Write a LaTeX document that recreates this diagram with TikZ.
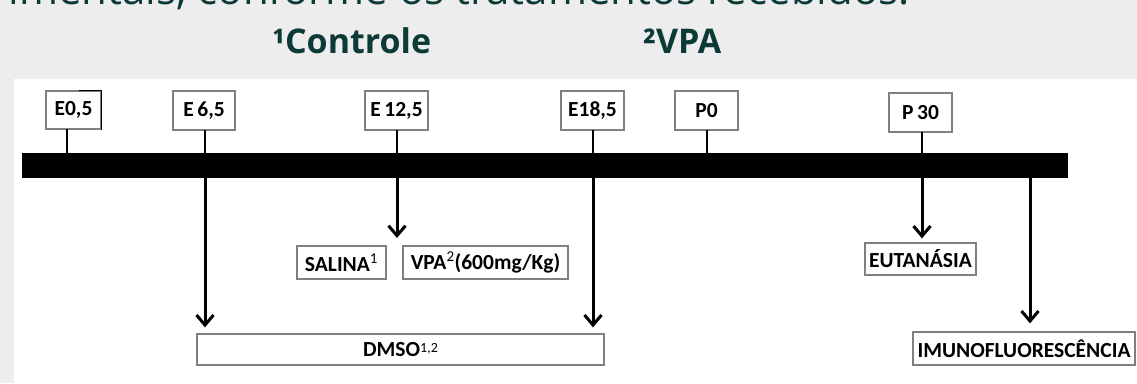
\documentclass[tikz,border=0pt]{standalone}
\usepackage{fontspec}
\setmainfont{Carlito}
\newfontfamily\hdrfont{Open Sans}
\usetikzlibrary{arrows.meta}
\definecolor{bggray}{HTML}{EDEDED}
\definecolor{hdrteal}{HTML}{0C3A37}
\definecolor{boxgray}{HTML}{808080}
\tikzset{
  tlbox/.style={draw=boxgray, line width=1.3pt, fill=white, inner sep=0pt, font=\bfseries\fontsize{21.5}{23}\selectfont, text=black},
  tick/.style={line width=1.8pt, black},
  downarrow/.style={line width=3pt, black, -{Straight Barb[length=10pt,width=17pt,line width=3pt]}},
  hdr/.style={font=\hdrfont\bfseries\fontsize{34}{36}\selectfont, text=hdrteal, inner sep=0pt, anchor=base west},
}
\begin{document}
\begin{tikzpicture}[x=1pt,y=-1pt]
\useasboundingbox (0,0) rectangle (1137,383);
\fill[bggray] (0,0) rectangle (1137,383);
\begin{scope}
\clip (0,0) rectangle (1137,383);
\node[font=\hdrfont\fontsize{42}{44}\selectfont, text=hdrteal, inner sep=0pt, anchor=base east] (toptext) at (910,4) {experimentais, conforme os tratamentos recebidos:};
\end{scope}
\node[hdr] (hctrl) at (272,53) {¹Controle};
\node[hdr] (hvpa) at (643,53) {²VPA};
\fill[white] (14,79) rectangle (1137,383);
% timeline bar
\node[fill=black, inner sep=0pt, minimum width=1046pt, minimum height=25pt] (bar) at (545,165.5) {};
% top labels
\node[tlbox, minimum width=55pt, minimum height=38pt] (e05) at (73.5,110) {E0,5};
\draw[black, line width=1.3pt] ([xshift=-23pt]e05.north east) -- (e05.north east) -- (e05.south east);
\node[tlbox, minimum width=62pt, minimum height=39pt] (e65) at (204,110.5) {E\,6,5};
\node[tlbox, minimum width=63pt, minimum height=39pt] (e125) at (396.5,110.5) {E\,12,5};
\node[tlbox, minimum width=63pt, minimum height=39pt] (e185) at (592.5,110.5) {E18,5};
\node[tlbox, minimum width=63pt, minimum height=39pt] (p0) at (706.5,110.5) {P0};
\node[tlbox, minimum width=63pt, minimum height=39pt] (p30) at (920.5,112.5) {P\,30};
% bottom boxes
\node[tlbox, minimum width=89pt, minimum height=33pt] (salina) at (341.5,262.5) {SALINA\textsuperscript{\normalfont 1}};
\node[tlbox, minimum width=165pt, minimum height=33pt] (vpa) at (485.5,262.5) {VPA\textsuperscript{\normalfont 2}(600mg/Kg)};
\node[tlbox, minimum width=407pt, minimum height=31pt] (dmso) at (400.5,349.5) {DMSO\raisebox{4pt}{\normalfont\fontsize{14}{14}\selectfont 1,2}};
\node[tlbox, minimum width=111pt, minimum height=32pt] (eut) at (920.5,259) {EUTANÁSIA};
\node[tlbox, minimum width=222pt, minimum height=33pt] (imuno) at (1024,348.5) {IMUNOFLUORESCÊNCIA};
% free ends
\coordinate (t05) at (67,129);
\coordinate (t65) at (205,130);
\coordinate (t125) at (397,130);
\coordinate (t185) at (593,130);
\coordinate (t0) at (707,130);
\coordinate (t30) at (922,132);
\coordinate (t1030) at (1030,178);
\coordinate (salvpa) at (397,238);
% ticks
\draw[tick] (t05) -- (t05 |- bar.north);
\draw[tick] (t65) -- (t65 |- bar.north);
\draw[tick] (t125) -- (t125 |- bar.north);
\draw[tick] (t185) -- (t185 |- bar.north);
\draw[tick] (t0) -- (t0 |- bar.north);
\draw[tick] (t30) -- (t30 |- bar.north);
% arrows
\draw[downarrow, shorten >=6pt] (t65 |- bar.south) -- (t65 |- dmso.north);
\draw[downarrow] (t125 |- bar.south) -- (salvpa);
\draw[downarrow, shorten >=6pt] (t185 |- bar.south) -- (t185 |- dmso.north);
\draw[downarrow, shorten >=4pt] (t30 |- bar.south) -- (t30 |- eut.north);
\draw[downarrow, shorten >=8pt] (t1030) -- (t1030 |- imuno.north);
\end{tikzpicture}
\end{document}
